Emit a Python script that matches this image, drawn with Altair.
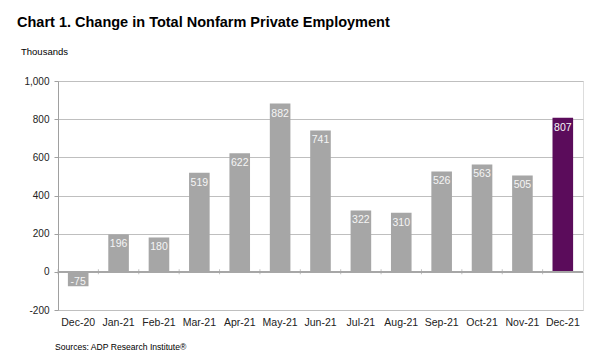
import altair as alt
import pandas as pd

months = ["Dec-20", "Jan-21", "Feb-21", "Mar-21", "Apr-21", "May-21", "Jun-21",
          "Jul-21", "Aug-21", "Sep-21", "Oct-21", "Nov-21", "Dec-21"]
values = [-75, 196, 180, 519, 622, 882, 741, 322, 310, 526, 563, 505, 807]
highlight = "Dec-21"

title_text = "Chart 1. Change in Total Nonfarm Private Employment"
unit_text = "Thousands"
source_text = "Sources: ADP Research Institute®"
y_ticks = [-200, 0, 200, 400, 600, 800, 1000]

FONT = "Liberation Sans"
GRAY = "#A6A6A6"
PURPLE = "#5B0C5B"
W, H = 525, 229
STEP = W / len(months)

df = pd.DataFrame({"month": months, "v": values})

xscale = alt.Scale(paddingInner=0.49, paddingOuter=0.245)
xaxis = alt.Axis(labelAngle=0, tickSize=0, domain=False, labelPadding=7,
                 labelFontSize=10.5, labelColor="#222", labelFont=FONT)
yscale = alt.Scale(domain=[-200, 1000], nice=False, zero=False)
yaxis = alt.Axis(values=y_ticks, tickCount=7, grid=True, gridColor="#BFBFBF",
                 domain=True, domainColor="#A0A0A0", tickSize=4,
                 tickColor="#A0A0A0", labelPadding=5, labelFontSize=10,
                 labelColor="#222", labelFont=FONT,
                 labelOverlap=False, labelFlush=False,
                 labelExpr="datum.value < 0 ? '-' + format(-datum.value, ',') : format(datum.value, ',')")


def X():
    return alt.X("month:N", sort=months, title=None, scale=xscale, axis=xaxis)


def Y(field="v:Q"):
    return alt.Y(field, scale=yscale, axis=yaxis, title=None)


base = alt.Chart(df)

bars = base.mark_bar().encode(
    x=X(), y=Y(),
    y2=alt.Y2(datum=0),
    color=alt.condition(alt.datum.month == highlight, alt.value(PURPLE), alt.value(GRAY)),
)

zero = base.transform_calculate(z="0").mark_rule(color="#A6A6A6", strokeWidth=1).encode(
    y=Y("z:Q")
)

ticks = base.transform_calculate(z="0").mark_tick(
    orient="vertical", size=5, thickness=1, color="#A6A6A6", xOffset=-STEP / 2
).encode(x=X(), y=Y("z:Q"))

labels_pos = base.transform_filter("datum.v >= 0").transform_calculate(
    lbl="'' + datum.v"
).mark_text(baseline="middle", dy=10, color="#F5F5F5", fontSize=10.5, font=FONT).encode(
    x=X(), y=Y(), text="lbl:N"
)
labels_neg = base.transform_filter("datum.v < 0").transform_calculate(
    lbl="'-' + abs(datum.v)"
).mark_text(baseline="middle", dy=-4, color="#F5F5F5", fontSize=10.5, font=FONT).encode(
    x=X(), y=Y(), text="lbl:N"
)

title = alt.Chart(pd.DataFrame({"t": [title_text]})).mark_text(
    align="left", baseline="alphabetic", fontSize=14.5, fontWeight="bold", font=FONT, color="#000"
).encode(text="t:N", x=alt.value(-41), y=alt.value(-54))

unit = alt.Chart(pd.DataFrame({"t": [unit_text]})).mark_text(
    align="left", baseline="alphabetic", fontSize=9.5, font=FONT, color="#000"
).encode(text="t:N", x=alt.value(-37), y=alt.value(-26))

source = alt.Chart(pd.DataFrame({"t": [source_text]})).mark_text(
    align="left", baseline="alphabetic", fontSize=8.6, font=FONT, color="#000"
).encode(text="t:N", x=alt.value(-3), y=alt.value(269))

chart = alt.layer(bars, zero, ticks, labels_pos, labels_neg, title, unit, source).properties(
    width=W, height=H,
    autosize=alt.AutoSizeParams(type="none"),
    padding={"left": 50, "top": 73, "right": 5, "bottom": 44},
).configure_view(stroke="#BFBFBF").configure(background="white")

chart.save("out.html", embed_options={"renderer": "svg", "actions": False})
